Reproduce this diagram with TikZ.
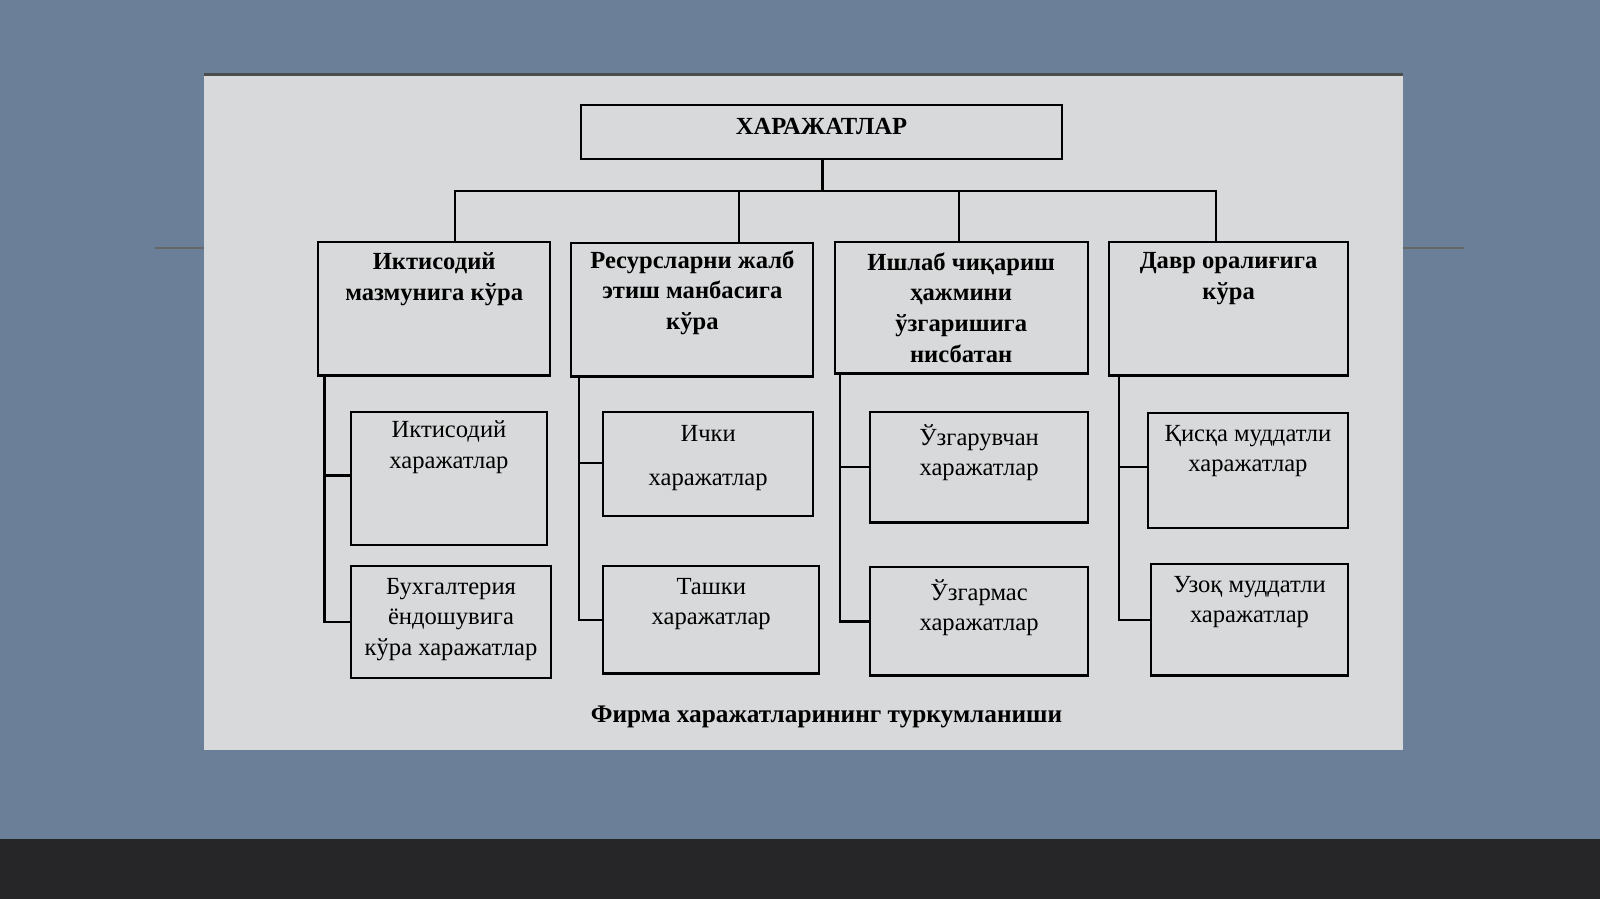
\documentclass[tikz,border=0pt]{standalone}
\usepackage{fontspec}
\setmainfont{Liberation Serif}
\usetikzlibrary{positioning,fit,calc}
\definecolor{slideBg}{RGB}{108,127,152}
\definecolor{bandColor}{RGB}{38,38,40}
\definecolor{paperColor}{RGB}{216,217,218}
\tikzset{
    box/.style={draw, line width=0.6pt, inner sep=0pt},
    head/.style={font=\fontsize{7}{8.7}\selectfont\bfseries, align=center, anchor=north, inner sep=0pt},
    body/.style={font=\fontsize{7}{8.7}\selectfont, align=center, anchor=north, inner sep=0pt},
    link/.style={line width=0.6pt}
}
\begin{document}
\begin{tikzpicture}[x=0.010204cm, y=-0.010204cm]
        % background
        \fill[slideBg] (0,0) rectangle (1568,822);
        \fill[bandColor] (0,822) rectangle (1568,881);
        \draw[black!60] (152,243) -- (200,243);
        \draw[black!60] (1375,243) -- (1435,243);
        \fill[paperColor] (200,73) rectangle (1375,735);
        \draw[black!70, thick] (200,73) -- (1375,73);

        % top
        \node[box, fit={(569,103)(1041,156)}] (top) {};
        \node[head] (topText) at ($(top.north)+(0,13)$) {ХАРАЖАТЛАР};

        % categories
        \node[box, fit={(312,237)(539,368)}] (A) {};
        \node[box, fit={(560,238)(797,369)}] (B) {};
        \node[box, fit={(818,237)(1066,366)}] (C) {};
        \node[box, fit={(1087,237)(1321,368)}] (D) {};
        \node[head] at ($(A.north)+(0,11)$) {Иктисодий\\мазмунига кўра};
        \node[head] at ($(B.north)+(0,8)$) {Ресурсларни жалб\\этиш манбасига\\кўра};
        \node[head] at ($(C.north)+(0,11)$) {Ишлаб чиқариш\\ҳажмини\\ўзгаришига\\нисбатан};
        \node[head] at ($(D.north)+(0,11)$) {Давр оралиғига\\кўра};

        % sub boxes
        \node[box, fit={(344,404)(536,534)}] (A1) {};
        \node[box, fit={(344,555)(540,664)}] (A2) {};
        \node[box, fit={(591,404)(797,506)}] (B1) {};
        \node[box, fit={(591,555)(803,660)}] (B2) {};
        \node[box, fit={(853,404)(1066,512)}] (C1) {};
        \node[box, fit={(853,556)(1066,662)}] (C2) {};
        \node[box, fit={(1125,405)(1321,517)}] (D1) {};
        \node[box, fit={(1128,553)(1321,662)}] (D2) {};
        \node[body] at ($(A1.north)+(0,9)$) {Иктисодий\\харажатлар};
        \node[body] at ($(A2.north)+(0,12)$) {Бухгалтерия\\ёндошувига\\кўра харажатлар};
        \node[body] at ($(B1.north)+(0,13)$) {Ички\\[1.2ex]харажатлар};
        \node[body] at ($(B2.north)+(0,12)$) {Ташки\\харажатлар};
        \node[body] at ($(C1.north)+(0,12)$) {Ўзгарувчан\\харажатлар};
        \node[body] at ($(C2.north)+(0,12)$) {Ўзгармас\\харажатлар};
        \node[body] at ($(D1.north)+(0,12)$) {Қисқа муддатли\\харажатлар};
        \node[body] at ($(D2.north)+(0,12)$) {Узоқ муддатли\\харажатлар};

        % tree lines
        \coordinate (bus) at (806,187);
        \draw[link] (top.south -| bus) -- (bus);
        \draw[link] (A.north -| 446,0) |- (bus) -| (D.north -| 1192,0);
        \draw[link] (B.north -| 724,0) -- (724,187);
        \draw[link] (C.north -| 940,0) -- (940,187);

        \draw[link] (A.south -| 318,0) |- (A2.west);
        \draw[link] (318,466) -- (318,466 -| A1.west);
        \draw[link] (B.south -| 567,0) |- (B2.west);
        \draw[link] (567,454) -- (567,454 -| B1.west);
        \draw[link] (C.south -| 823,0) |- (C2.west);
        \draw[link] (823,458) -- (823,458 -| C1.west);
        \draw[link] (D.south -| 1097,0) |- (D2.west);
        \draw[link] (1097,458) -- (1097,458 -| D1.west);

        % caption
        \node[head, font=\fontsize{7.2}{9}\selectfont\bfseries] (caption) at (810,691) {Фирма харажатларининг туркумланиши};
\end{tikzpicture}
\end{document}
